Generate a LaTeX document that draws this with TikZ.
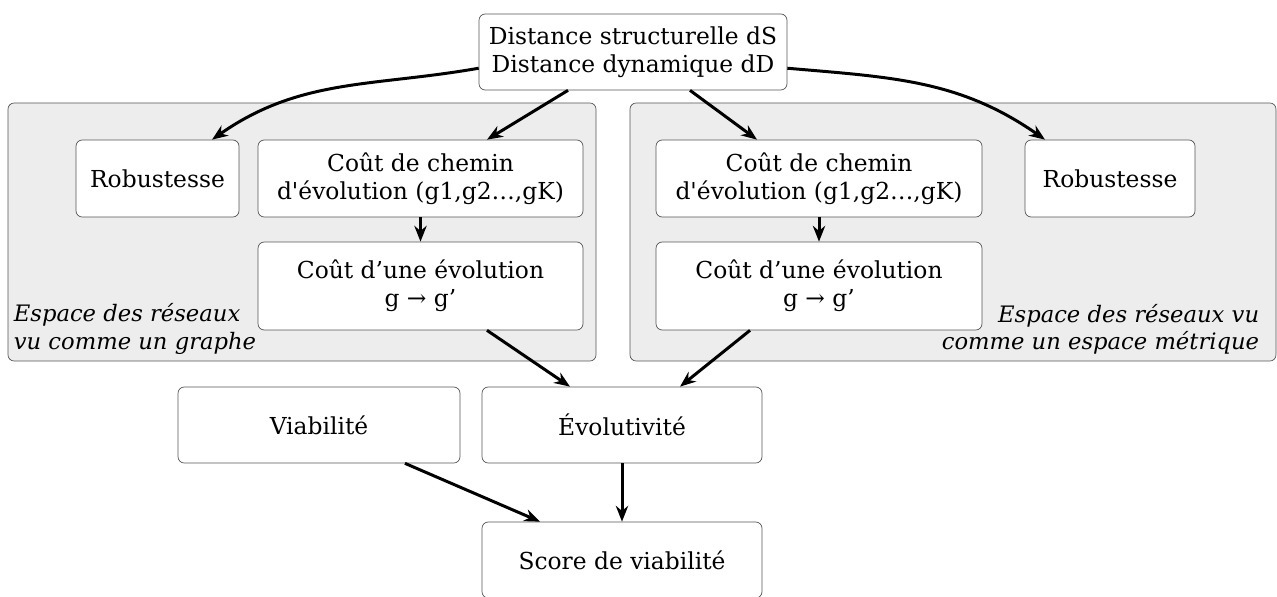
\documentclass[tikz,border=0pt]{standalone}
\usepackage{fontspec}
\setmainfont{DejaVu Serif}[ItalicFont={DejaVu Serif Italic}]
\usetikzlibrary{arrows.meta}
\definecolor{groupgray}{HTML}{EDEDED}
\definecolor{edgegray}{HTML}{555555}

\begin{document}
\begin{tikzpicture}[x=0.02cm,y=0.02cm,>={Stealth[length=9pt,width=7pt]},
  box/.style={draw=edgegray,fill=white,rounded corners=3.5pt,align=center,
    inner sep=0pt,font=\fontsize{13.3}{15.8}\selectfont},
  group/.style={draw=edgegray,fill=groupgray,rounded corners=3.5pt},
  lbl/.style={inner sep=2pt,font=\fontsize{12.9}{15.6}\selectfont\itshape},
  link/.style={->,line width=1.7pt}]
  \useasboundingbox (0,0) rectangle (1277,596);
  % the two spaces
  \draw[group] (8,235) rectangle (596,493);
  \draw[group] (630,235) rectangle (1276,493);
  \node[lbl,anchor=south west,align=left] (espL) at (10,238)
    {Espace des réseaux\\vu comme un graphe};
  \node[lbl,anchor=south east,align=right] (espR) at (1263,238)
    {Espace des réseaux vu\\comme un espace métrique};
  % boxes
  \node[box,minimum width=6.16cm,minimum height=1.52cm] (dist) at (633,544)
    {Distance structurelle dS\\Distance dynamique dD};
  \node[box,minimum width=3.26cm,minimum height=1.54cm] (robL) at (157.5,417.5)
    {Robustesse};
  \node[box,minimum width=6.5cm,minimum height=1.54cm] (chemL) at (420.5,417.5)
    {Coût de chemin\\d\textquotesingle évolution (g1,g2…,gK)};
  \node[box,minimum width=6.5cm,minimum height=1.76cm] (evoL) at (420.5,310)
    {Coût d’une évolution\\g → g’};
  \node[box,minimum width=6.52cm,minimum height=1.54cm] (chemR) at (819,417.5)
    {Coût de chemin\\d\textquotesingle évolution (g1,g2…,gK)};
  \node[box,minimum width=3.4cm,minimum height=1.54cm] (robR) at (1110,417.5)
    {Robustesse};
  \node[box,minimum width=6.52cm,minimum height=1.76cm] (evoR) at (819,310)
    {Coût d’une évolution\\g → g’};
  \node[box,minimum width=5.64cm,minimum height=1.52cm] (viab) at (319,171)
    {Viabilité};
  \node[box,minimum width=5.6cm,minimum height=1.52cm] (evolu) at (622,171)
    {Évolutivité};
  \node[box,minimum width=5.6cm,minimum height=1.52cm] (score) at (622,36)
    {Score de viabilité};
  % arrows
  \draw[link] (dist.186) to[out=190,in=35] ([xshift=1.09cm]robL.north);
  \draw[link] ([xshift=-1.3cm]dist.south) -- ([xshift=1.33cm]chemL.north);
  \draw[link] ([xshift=1.14cm]dist.south) -- ([xshift=-1.24cm]chemR.north);
  \draw[link] (dist.354) to[out=-5,in=145] ([xshift=-1.3cm]robR.north);
  \draw[link] (chemL.south) -- (evoL.north);
  \draw[link] (chemR.south) -- (evoR.north);
  \draw[link] ([xshift=1.33cm]evoL.south) -- ([xshift=-1.04cm]evolu.north);
  \draw[link] ([xshift=-1.38cm]evoR.south) -- ([xshift=1.16cm]evolu.north);
  \draw[link] ([xshift=1.72cm]viab.south) -- ([xshift=-1.64cm]score.north);
  \draw[link] (evolu.south) -- (score.north);
\end{tikzpicture}
\end{document}
